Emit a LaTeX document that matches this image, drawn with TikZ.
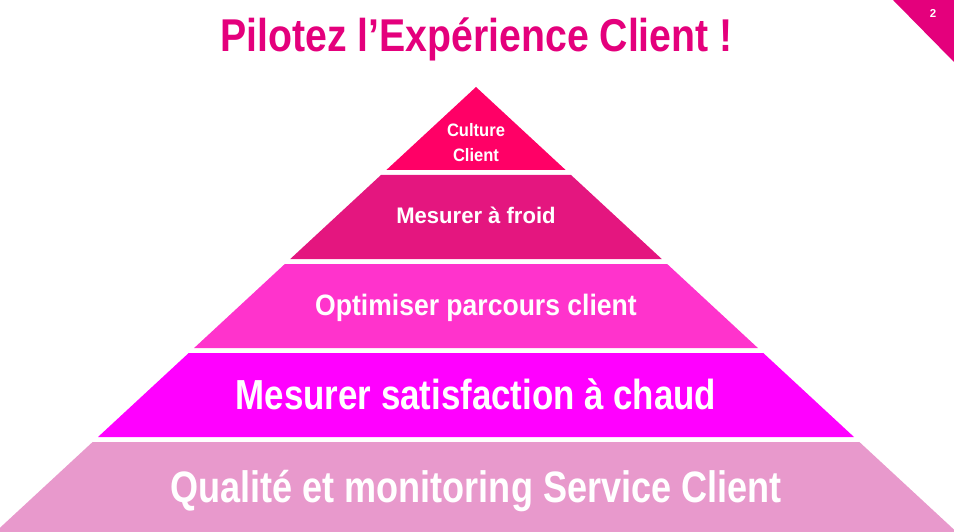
\documentclass[tikz,border=0pt]{standalone}
\usepackage{fontspec}
\setmainfont{Liberation Sans}
\definecolor{brand}{RGB}{228,0,124}
\definecolor{tierA}{RGB}{255,0,102}
\definecolor{tierB}{RGB}{228,22,127}
\definecolor{tierC}{RGB}{255,51,204}
\definecolor{tierD}{RGB}{255,0,255}
\definecolor{tierE}{RGB}{232,153,204}
% size / horizontal squeeze
\newcommand{\fsz}[2]{\fontspec{Liberation Sans}[FakeStretch=#2]%
  \fontsize{#1}{1.4\dimexpr#1pt}\selectfont\bfseries}
\tikzset{
  tier/.style={text=white,align=center,anchor=base,inner sep=0pt},
  ttl/.style={text=brand,font=\fsz{46}{0.853},anchor=base,inner sep=0pt},
}

\begin{document}
\begin{tikzpicture}[x=1pt,y=-1pt]
  \useasboundingbox (0,0) rectangle (954,532);

  % pyramid slices (top/bottom/colour)
  \foreach \t/\b/\c in {87/170/tierA,175/259/tierB,264/348/tierC,353/437/tierD,442/532/tierE}
    \fill[\c] ({476-1.08*(\t-87)},\t) -- ({476+1.08*(\t-87)},\t)
      -- ({476+1.08*(\b-87)},\b) -- ({476-1.08*(\b-87)},\b) -- cycle;

  % page corner
  \fill[brand] (893,0) -- (954,0) -- (954,62) -- cycle;
  \node[text=white,font=\fsz{11.5}{1},inner sep=0pt] (page) at (933,13) {2};

  % title
  \node[ttl] (titre) at (476.5,52) {Pilotez l’Expérience Client !};

  % labels
  \node[tier,font=\fsz{18}{0.92}] (culture) at (476,162) {Culture\\Client};
  \node[tier,font=\fsz{22.5}{0.98}] (froid) at (476,223) {Mesurer à froid};
  \node[tier,font=\fsz{29.5}{0.9}] (parcours) at (476,315) {Optimiser parcours client};
  \node[tier,font=\fsz{42}{0.83}] (chaud) at (476,409) {Mesurer satisfaction à chaud};
  \node[tier,font=\fsz{44}{0.82}] (qualite) at (476,502) {Qualité et monitoring Service Client};
\end{tikzpicture}
\end{document}
